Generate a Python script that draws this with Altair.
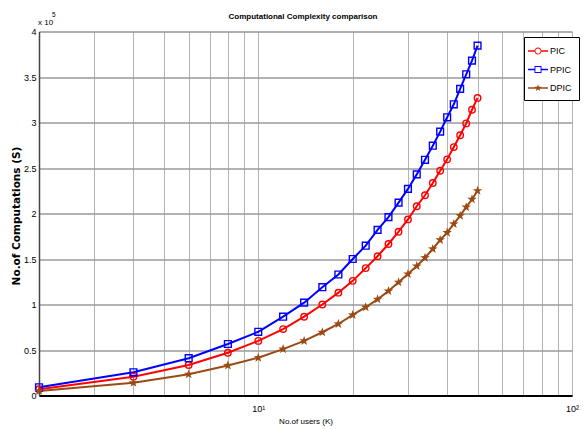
import altair as alt
import pandas as pd

# ---------------- data ----------------
users = [2, 4, 6, 8, 10, 12, 14, 16, 18, 20, 22, 24, 26, 28, 30,
         32, 34, 36, 38, 40, 42, 44, 46, 48, 50]
pic = [6800, 20700, 33500, 47000, 60000, 73000, 86600, 100000, 113000, 126000,
       140000, 153000, 166500, 180000, 193500, 208000, 220000, 233500, 247000,
       259500, 273000, 286000, 299000, 314000, 327000]
ppic = [9000, 25500, 41000, 56600, 70000, 86600, 102000, 119000, 133000, 150000,
        164600, 182000, 196000, 212000, 227000, 243000, 259000, 274500, 290000,
        305700, 320000, 337000, 353000, 368000, 384500]
dpic = [5000, 14000, 23300, 33000, 41500, 51000, 60000, 69500, 78600, 88500,
        97000, 105700, 114800, 124400, 133500, 142300, 151400, 161000, 171000,
        179000, 188500, 197600, 207000, 215600, 225000]

series_names = ["PIC", "PPIC", "DPIC"]
series_colors = ["#ff0000", "#0000ff", "#9b4a14"]
x_grid_values = [2, 3, 4, 5, 6, 7, 8, 9, 10, 20, 30, 40, 50, 60, 70, 80, 90, 100]
y_tick_values = [0, 50000, 100000, 150000, 200000, 250000, 300000, 350000, 400000]
chart_title = "Computational Complexity comparison"

rows = []
for name, vals in zip(series_names, [pic, ppic, dpic]):
    for u, v in zip(users, vals):
        rows.append({"users": u, "value": v, "series": name})
df = pd.DataFrame(rows)

FONT_N = "Liberation Sans"

STAR = ("M0,-1L0.235,-0.324L0.951,-0.309L0.38,0.124L0.588,0.809L0,0.4"
        "L-0.588,0.809L-0.38,0.124L-0.951,-0.309L-0.235,-0.324Z")

legend_paths = [
    # line pieces + hollow circle (ring)
    "M-1.43,-0.107H-0.5V0.107H-1.43Z M0.5,-0.107H1.43V0.107H0.5Z "
    "M-0.5,0A0.5,0.5,0,1,1,0.5,0A0.5,0.5,0,1,1,-0.5,0Z "
    "M-0.37,0A0.37,0.37,0,1,0,0.37,0A0.37,0.37,0,1,0,-0.37,0Z",
    # line pieces + hollow square
    "M-1.43,-0.107H-0.5V0.107H-1.43Z M0.5,-0.107H1.43V0.107H0.5Z "
    "M-0.5,-0.5H0.5V0.5H-0.5Z M-0.37,-0.37V0.37H0.37V-0.37Z",
    # full line + filled star
    "M-1.43,-0.107H1.43V0.107H-1.43Z "
    "M0,-0.55L0.129,-0.178L0.523,-0.17L0.209,0.068L0.323,0.445L0,0.22"
    "L-0.323,0.445L-0.209,0.068L-0.523,-0.17L-0.129,-0.178Z",
]

color_scale = alt.Scale(domain=series_names, range=series_colors)

x_enc = alt.X(
    "users:Q",
    scale=alt.Scale(type="log", domain=[2, 100], nice=False),
    axis=alt.Axis(
        values=x_grid_values,
        labelExpr="datum.value == 10 ? '10¹' : (datum.value == 100 ? '10²' : '')",
        title="No.of users (K)",
        titleFont=FONT_N, titleFontSize=8, titleFontWeight="normal",
        titleY=26, titleBaseline="middle", titleColor="#000000",
        labelFont=FONT_N, labelFontSize=9, labelPadding=9, labelColor="#000000",
        ticks=False, grid=True, gridColor="#b4b4b4", gridWidth=1,
        domainColor="#000000", domainWidth=2,
        labelFlush=False, labelOverlap=False,
    ),
)
y_enc = alt.Y(
    "value:Q",
    scale=alt.Scale(domain=[0, 400000], nice=False),
    axis=alt.Axis(
        values=y_tick_values,
        labelExpr="datum.value / 100000 + ''",
        title="No.of Computations (S)",
        titleFont="DejaVu Sans", titleFontSize=10.5, titleFontWeight="bold",
        titleAngle=270, titleX=-23, titleY=184, titleBaseline="middle",
        titleColor="#000000",
        labelFont=FONT_N, labelFontSize=9, labelPadding=3, labelColor="#000000",
        ticks=False, grid=True, gridColor="#9a9a9a", gridWidth=1.5,
        domainColor="#444444", domainWidth=1.5,
        labelFlush=False, labelOverlap=False,
    ),
)

base = alt.Chart(df)

lines = base.mark_line(strokeWidth=2).encode(
    x=x_enc, y=y_enc,
    color=alt.Color("series:N", scale=color_scale, legend=None),
    order="users:Q",
)

pts_pic = base.transform_filter(alt.datum.series == "PIC").mark_point(
    shape="circle", size=42, filled=False, strokeWidth=1.4, opacity=1
).encode(x=x_enc, y=y_enc, color=alt.Color("series:N", scale=color_scale, legend=None))

pts_ppic = base.transform_filter(alt.datum.series == "PPIC").mark_point(
    shape="square", size=46, filled=False, strokeWidth=1.4, opacity=1
).encode(x=x_enc, y=y_enc, color=alt.Color("series:N", scale=color_scale, legend=None))

pts_dpic = base.transform_filter(alt.datum.series == "DPIC").mark_point(
    shape=STAR, size=100, filled=True, opacity=1
).encode(x=x_enc, y=y_enc, color=alt.Color("series:N", scale=color_scale, legend=None))

leg = alt.Legend(
    title=None, orient="none", legendX=485, legendY=5.5,
    padding=7, symbolOffset=0, labelOffset=5, rowPadding=6.5,
    symbolSize=196, symbolStrokeWidth=0, symbolOpacity=1,
    labelFont=FONT_N, labelFontSize=9, labelColor="#000000",
    strokeColor="#000000", fillColor="#ffffff",
)
legend_layer = alt.Chart(pd.DataFrame({"series": series_names})).transform_filter(
    "false"
).mark_point(filled=True, opacity=1).encode(
    color=alt.Color("series:N", scale=color_scale, legend=leg),
    shape=alt.Shape("series:N", scale=alt.Scale(domain=series_names, range=legend_paths),
                    legend=leg),
)

note_df = pd.DataFrame({"t": ["x 10"], "e": ["5"], "title": [chart_title]})
note1 = alt.Chart(note_df).mark_text(
    align="left", baseline="alphabetic", font=FONT_N, fontSize=8, color="#000000"
).encode(x=alt.value(-1), y=alt.value(-7), text="t:N")
note2 = alt.Chart(note_df).mark_text(
    align="left", baseline="alphabetic", font=FONT_N, fontSize=6.5, color="#000000"
).encode(x=alt.value(13), y=alt.value(-14.5), text="e:N")
title_mark = alt.Chart(note_df).mark_text(
    align="center", baseline="alphabetic", font=FONT_N, fontSize=8,
    fontWeight="bold", color="#000000"
).encode(x=alt.value(264), y=alt.value(-12.5), text="title:N")

chart = alt.layer(
    lines, pts_pic, pts_ppic, pts_dpic, legend_layer, note1, note2, title_mark
).resolve_scale(
    color="independent", shape="independent"
).properties(
    width=533, height=364,
    autosize=alt.AutoSizeParams(type="none"),
    padding={"left": 39, "top": 31.5, "right": 12, "bottom": 33.5},
).configure_view(stroke="#000000", strokeWidth=2).configure(background="white")

chart.save("out.html", embed_options={"renderer": "svg", "actions": False})
